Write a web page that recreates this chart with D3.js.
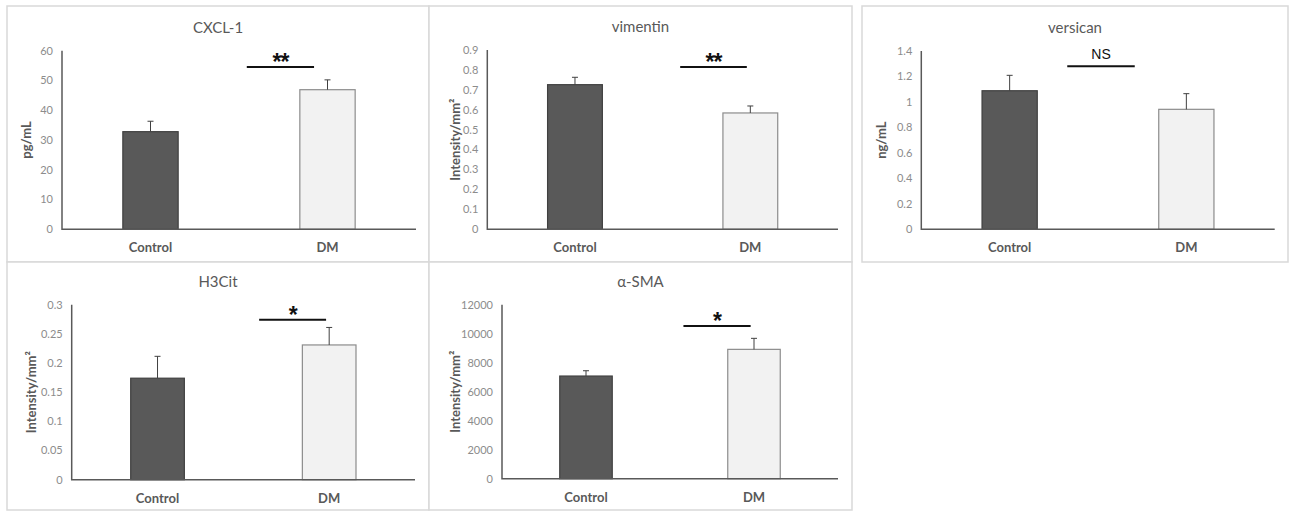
<!DOCTYPE html>
<html>
<head>
<meta charset="utf-8">
<script src="https://cdn.jsdelivr.net/npm/d3@7"></script>
<style>
  html, body { margin: 0; padding: 0; background: #fff; }
  svg { display: block; font-family: Lato, "Open Sans", sans-serif; }
  .frame { fill: #fff; stroke: #d9d9d9; stroke-width: 1.5; }
  .title { fill: #595959; font-size: 15px; text-anchor: middle; }
  .tick-label { fill: #8c8c8c; font-size: 11px; text-anchor: end; }
  .y-label { fill: #595959; font-size: 13px; font-weight: bold; text-anchor: middle; }
  .cat-label { fill: #595959; font-size: 13px; font-weight: bold; text-anchor: middle; }
  .axis-line { stroke: #595959; stroke-width: 1.5; fill: none; }
  .err { stroke: #404040; stroke-width: 1; fill: none; }
  .sig-line { stroke: #111; stroke-width: 2; }
</style>
</head>
<body>
<svg id="chart" width="1293" height="511"></svg>
<script>
// ── Data ──────────────────────────────────────────────────────────
var categories  = ["Control", "DM"];
var titles      = ["CXCL-1", "vimentin", "versican", "H3Cit", "α-SMA"];
var yLabels     = ["pg/mL", "Intensity/mm²", "ng/mL", "Intensity/mm²", "Intensity/mm²"];
var yMax        = [60, 0.9, 1.4, 0.3, 12000];
var tickCounts  = [6, 9, 7, 6, 6];
var meanValues  = [[32.8, 46.9], [0.726, 0.584], [1.088, 0.942], [0.174, 0.231], [7080, 8920]];
var errorValues = [[3.5, 3.3], [0.037, 0.035], [0.121, 0.123], [0.0375, 0.030], [365, 760]];
var sigLabels   = ["**", "**", "NS", "*", "*"];
var sigLevel    = [54.5, 0.815, 1.28, 0.274, 10530];   // height of bracket, in data units
var sigSpan     = [[0.522, 0.712], [0.550, 0.740], [0.413, 0.604], [0.546, 0.741], [0.540, 0.740]];

// ── Layout (frame box + plot box per panel) ───────────────────────
var layout = [
  { fx: 7,   fy: 6,   fw: 422, fh: 256, x0: 62,    x1: 416,   y0: 50.7,  y1: 229.3, ylx: 26 },
  { fx: 429, fy: 6,   fw: 423, fh: 256, x0: 487.3, x1: 838,   y0: 50,    y1: 229.3, ylx: 455 },
  { fx: 862, fy: 6,   fw: 426, fh: 256, x0: 921.3, x1: 1274.7, y0: 51,   y1: 229.3, ylx: 881 },
  { fx: 7,   fy: 262, fw: 422, fh: 248, x0: 71.7,  x1: 415,   y0: 304.7, y1: 479.7, ylx: 31.7 },
  { fx: 429, fy: 262, fw: 423, fh: 248, x0: 502,   x1: 838,   y0: 304.7, y1: 478.7, ylx: 455 }
];

var barFill   = ["#595959", "#f2f2f2"];
var barStroke = ["#404040", "#8c8c8c"];

var svg = d3.select("#chart");
var fmt = d3.format("~g");

titles.forEach(function (title, i) {
  var L = layout[i];
  var g = svg.append("g").attr("class", "panel");

  // ── Frame ───────────────────────────────────────────────────────
  g.append("rect").attr("class", "frame")
    .attr("x", L.fx).attr("y", L.fy).attr("width", L.fw).attr("height", L.fh);

  g.append("text").attr("class", "title")
    .attr("x", L.fx + L.fw / 2).attr("y", L.y0 - 18)
    .text(title);

  // ── Scales ──────────────────────────────────────────────────────
  var x = d3.scaleBand().domain(categories).range([L.x0, L.x1])
    .paddingInner(0.6875).paddingOuter(0.34375);
  var y = d3.scaleLinear().domain([0, yMax[i]]).range([L.y1, L.y0]);
  var frac = d3.scaleLinear().domain([0, 1]).range([L.x0, L.x1]);

  // ── Y ticks ─────────────────────────────────────────────────────
  g.selectAll(".tick-label").data(d3.ticks(0, yMax[i], tickCounts[i]))
    .enter().append("text").attr("class", "tick-label")
    .attr("x", L.x0 - 9).attr("y", function (d) { return y(d); })
    .attr("dy", "0.35em")
    .text(fmt);

  g.append("text").attr("class", "y-label")
    .attr("transform", "translate(" + L.ylx + "," + (L.y0 + L.y1) / 2 + ") rotate(-90)")
    .attr("dy", "0.35em")
    .text(yLabels[i]);

  // ── Bars ────────────────────────────────────────────────────────
  var rows = categories.map(function (c, j) {
    return { cat: c, j: j, v: meanValues[i][j], e: errorValues[i][j] };
  });

  g.selectAll(".bar").data(rows).enter().append("rect")
    .attr("class", "bar")
    .attr("x", function (d) { return x(d.cat); })
    .attr("y", function (d) { return y(d.v); })
    .attr("width", x.bandwidth())
    .attr("height", function (d) { return y(0) - y(d.v); })
    .attr("fill", function (d) { return barFill[d.j]; })
    .attr("stroke", function (d) { return barStroke[d.j]; })
    .attr("stroke-width", 1.2);

  // error bars (upper half only, as in the original)
  var err = g.selectAll(".errbar").data(rows).enter().append("g").attr("class", "errbar");
  err.append("line").attr("class", "err")
    .attr("x1", function (d) { return x(d.cat) + x.bandwidth() / 2; })
    .attr("x2", function (d) { return x(d.cat) + x.bandwidth() / 2; })
    .attr("y1", function (d) { return y(d.v); })
    .attr("y2", function (d) { return y(d.v + d.e); });
  err.append("line").attr("class", "err")
    .attr("x1", function (d) { return x(d.cat) + x.bandwidth() / 2 - 3; })
    .attr("x2", function (d) { return x(d.cat) + x.bandwidth() / 2 + 3; })
    .attr("y1", function (d) { return y(d.v + d.e); })
    .attr("y2", function (d) { return y(d.v + d.e); });

  // ── Axes ────────────────────────────────────────────────────────
  g.append("path").attr("class", "axis-line")
    .attr("d", "M" + L.x0 + "," + y(yMax[i]) + "V" + y(0) + "H" + L.x1);

  g.selectAll(".cat-label").data(categories).enter().append("text")
    .attr("class", "cat-label")
    .attr("x", function (d) { return x(d) + x.bandwidth() / 2; })
    .attr("y", L.y1 + 23)
    .text(function (d) { return d; });

  // ── Significance bracket ────────────────────────────────────────
  var sy = y(sigLevel[i]);
  var sx1 = frac(sigSpan[i][0]), sx2 = frac(sigSpan[i][1]);
  g.append("line").attr("class", "sig-line")
    .attr("x1", sx1).attr("x2", sx2).attr("y1", sy).attr("y2", sy);

  var isNS = sigLabels[i] === "NS";
  g.append("text")
    .attr("x", (sx1 + sx2) / 2)
    .attr("y", isNS ? sy - 7 : sy + 3)
    .attr("text-anchor", "middle")
    .attr("fill", "#111")
    .style("font-family", "'Liberation Sans', Arial, sans-serif")
    .style("font-size", isNS ? "14px" : "23px")
    .style("font-weight", isNS ? "normal" : "bold")
    .style("letter-spacing", isNS ? "0px" : "-1px")
    .text(sigLabels[i]);
});
</script>
</body>
</html>
